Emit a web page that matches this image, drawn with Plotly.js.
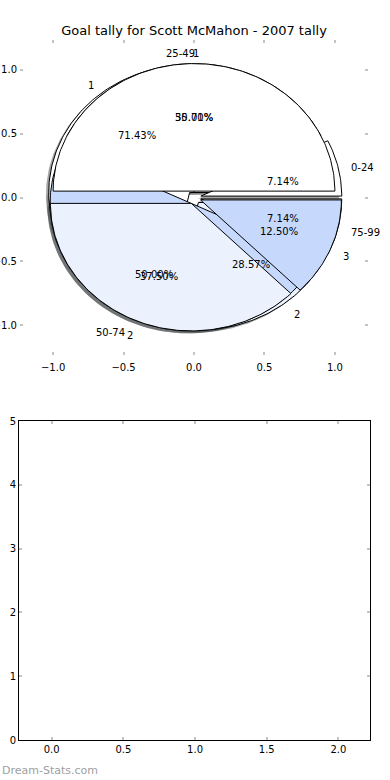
<!DOCTYPE html>
<html>
<head>
<meta charset="utf-8">
<script src="https://cdn.plot.ly/plotly-3.0.1.min.js"></script>
<style>html,body{margin:0;padding:0;background:#fff;}#chart{width:390px;height:780px;}</style>
</head>
<body>
<div id="chart"></div>
<script>
// ---- data ----
const titleText = 'Goal tally for Scott McMahon - 2007 tally';
// pie drawn first (bottom layer): goals per scoring game
const pieYLabels = ['1', '2'];
const pieYValues = [10, 4];
// pie drawn second: goals by minute band
const pieXLabels = ['0-24', '25-49', '50-74', '75-99'];
const pieXValues = [1, 5, 7, 1];
// pie drawn last (top layer)
const pieZLabels = ['1', '2', '3'];
const pieZValues = [4, 3, 1];
const watermark = 'Dream-Stats.com';

// ---- styles ----
const cWhite = '#ffffff', cPale = '#ebf2fe', cLight = '#c6d9fd';
const pieYColors = [cWhite, cPale];
const pieXColors = [cWhite, cPale, cLight, cWhite];
const pieZColors = [cWhite, cPale, cLight];
// label alignment (matplotlib picks it from the sign of a float that is ~0 at the top)
const pieYAlign = [null, null];
const pieXAlign = [null, 'right', null, null];
const pieZAlign = [null, null, null];
const explode = 0.05;
const fontFam = 'DejaVu Sans, sans-serif';

function buildPie(values, labels, colors, align) {
  const total = values.reduce((a, b) => a + b, 0);
  let theta1 = 0;
  const out = [];
  values.forEach((v, i) => {
    const frac = v / total;
    const theta2 = theta1 + frac;
    const thetam = 2 * Math.PI * 0.5 * (theta1 + theta2);
    const cx = explode * Math.cos(thetam);
    const cy = explode * Math.sin(thetam);
    const xs = [cx], ys = [cy];
    const a1 = 360 * theta1, a2 = 360 * theta2;
    const n = Math.max(2, Math.ceil((a2 - a1) / 1));
    for (let k = 0; k <= n; k++) {
      const a = (a1 + (a2 - a1) * k / n) * Math.PI / 180;
      xs.push(cx + Math.cos(a));
      ys.push(cy + Math.sin(a));
    }
    xs.push(cx); ys.push(cy);
    const lx = cx + 1.1 * Math.cos(thetam);
    const ly = cy + 1.1 * Math.sin(thetam);
    const px = cx + 0.6 * Math.cos(thetam);
    const py = cy + 0.6 * Math.sin(thetam);
    const ha = align[i] || (lx > 0 ? 'left' : 'right');
    out.push({xs, ys, color: colors[i], label: labels[i], lx, ly, ha,
      pct: (frac * 100).toFixed(2) + '%', px, py});
    theta1 = theta2;
  });
  return out;
}

const pies = [
  buildPie(pieYValues, pieYLabels, pieYColors, pieYAlign),
  buildPie(pieXValues, pieXLabels, pieXColors, pieXAlign),
  buildPie(pieZValues, pieZLabels, pieZColors, pieZAlign)
];

const traces = [];
function shade(hex) {
  const r = parseInt(hex.slice(1, 3), 16), g = parseInt(hex.slice(3, 5), 16), b = parseInt(hex.slice(5, 7), 16);
  return 'rgba(' + Math.round(r * 0.3) + ',' + Math.round(g * 0.3) + ',' + Math.round(b * 0.3) + ',0.5)';
}
// shadows below everything
pies.forEach(p => p.forEach(w => {
  traces.push({type: 'scatter', mode: 'lines', x: w.xs.map(v => v - 0.02), y: w.ys.map(v => v - 0.02),
    fill: 'toself', fillcolor: shade(w.color), line: {width: 0, color: 'rgba(0,0,0,0)'},
    hoverinfo: 'skip', showlegend: false, xaxis: 'x', yaxis: 'y'});
}));
// wedges
pies.forEach(p => p.forEach(w => {
  traces.push({type: 'scatter', mode: 'lines', x: w.xs, y: w.ys,
    fill: 'toself', fillcolor: w.color, line: {width: 1, color: '#000'},
    hoverinfo: 'skip', showlegend: false, xaxis: 'x', yaxis: 'y'});
}));
// texts (annotations placed at data positions computed from the values)
const annotations = [];
const txtFont = {family: fontFam, size: 10, color: '#000'};
pies.forEach(p => p.forEach(w => {
  annotations.push({text: w.label, x: w.lx, y: w.ly, xref: 'x', yref: 'y', showarrow: false,
    xanchor: w.ha, yanchor: 'middle', yshift: -2.5, xshift: w.ha === 'left' ? -2 : 2, borderpad: 0, font: txtFont});
  annotations.push({text: w.pct, x: w.px, y: w.py, xref: 'x', yref: 'y', showarrow: false,
    xanchor: 'center', yanchor: 'middle', yshift: -2.5, borderpad: 0, font: txtFont});
}));
annotations.push({text: watermark, xref: 'paper', yref: 'paper', x: 0, y: 10 / 780, xanchor: 'left', yanchor: 'middle',
  showarrow: false, font: {family: fontFam, size: 11, color: '#a0a0a0'}});

// empty second axes
traces.push({type: 'scatter', mode: 'markers', x: [], y: [], xaxis: 'x2', yaxis: 'y2', showlegend: false, hoverinfo: 'skip'});

const tickFont = {family: fontFam, size: 10, color: '#000'};
const tickStyle = {ticks: 'inside', ticklen: 3, tickwidth: 2, tickcolor: '#c4c4c4'};
const pieTicks = [-1, -0.5, 0, 0.5, 1];
const pieTickText = ['\u22121.0', '\u22120.5', '0.0', '0.5', '1.0'];
const layout = {
  width: 390, height: 780,
  margin: {l: 0, r: 0, t: 0, b: 0},
  paper_bgcolor: '#fff', plot_bgcolor: 'rgba(0,0,0,0)',
  showlegend: false,
  hovermode: false,
  title: {text: titleText, x: 194 / 390, xanchor: 'center', xref: 'paper', y: 1 - 30 / 780, yanchor: 'middle', yref: 'paper',
    font: {family: fontFam, size: 13, color: '#000'}},
  xaxis: Object.assign({domain: [20 / 390, 368 / 390], range: [-1.235, 1.235], showgrid: false, zeroline: false,
    showline: true, linecolor: 'rgba(0,0,0,0)', mirror: 'ticks', ticklabelstandoff: 3,
    tickvals: pieTicks, ticktext: pieTickText,
    tickfont: tickFont, anchor: 'y', fixedrange: true}, tickStyle),
  yaxis: Object.assign({domain: [(780 - 355) / 780, (780 - 40) / 780], range: [-1.235, 1.235], showgrid: false, zeroline: false,
    showline: true, linecolor: 'rgba(0,0,0,0)', mirror: 'ticks',
    tickvals: pieTicks, ticktext: pieTickText,
    tickfont: tickFont, anchor: 'x', fixedrange: true}, tickStyle),
  xaxis2: Object.assign({domain: [19 / 390, 370 / 390], range: [-0.228, 2.22], showgrid: false, zeroline: false,
    showline: true, linecolor: '#000', linewidth: 1, mirror: 'allticks',
    tickvals: [0, 0.5, 1, 1.5, 2], ticktext: ['0.0', '0.5', '1.0', '1.5', '2.0'],
    tickfont: tickFont, anchor: 'y2', fixedrange: true}, tickStyle),
  yaxis2: Object.assign({domain: [(780 - 740) / 780, (780 - 421) / 780], range: [0, 5], showgrid: false, zeroline: false,
    showline: true, linecolor: '#000', linewidth: 1, mirror: 'allticks',
    tickvals: [0, 1, 2, 3, 4, 5],
    tickfont: tickFont, anchor: 'x2', fixedrange: true}, tickStyle),
  annotations: annotations
};

Plotly.newPlot('chart', traces, layout, {displayModeBar: false, staticPlot: true});
</script>
</body>
</html>
